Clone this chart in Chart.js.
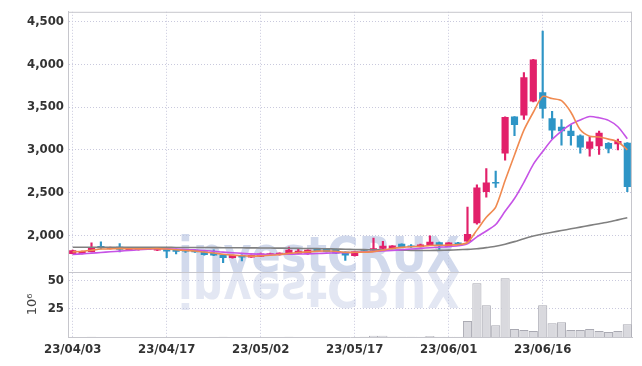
<!DOCTYPE html>
<html>
<head>
<meta charset="utf-8">
<script src="https://cdn.jsdelivr.net/npm/chart.js@4.4.0/dist/chart.umd.min.js"></script>
<style>
  html, body { margin: 0; padding: 0; background: #fff; }
  #wrap { width: 642px; height: 366px; }
</style>
</head>
<body>
<div id="wrap"><canvas id="stockChart"></canvas></div>
<script>
// 日付
const dates = [
  "23/04/03", "23/04/04", "23/04/05", "23/04/06", "23/04/07", "23/04/10", "23/04/11", "23/04/12", "23/04/13", "23/04/14",
  "23/04/17", "23/04/18", "23/04/19", "23/04/20", "23/04/21", "23/04/24", "23/04/25", "23/04/26", "23/04/27", "23/04/28",
  "23/05/02", "23/05/03", "23/05/05", "23/05/08", "23/05/09", "23/05/10", "23/05/11", "23/05/12", "23/05/15", "23/05/16",
  "23/05/17", "23/05/18", "23/05/19", "23/05/22", "23/05/23", "23/05/24", "23/05/25", "23/05/26", "23/05/29", "23/05/31",
  "23/06/01", "23/06/02", "23/06/05", "23/06/06", "23/06/07", "23/06/08", "23/06/09", "23/06/12", "23/06/13", "23/06/15",
  "23/06/16", "23/06/19", "23/06/20", "23/06/21", "23/06/22", "23/06/23", "23/06/26", "23/06/27", "23/06/28", "23/06/29",
];

// 四本値
const opens = [
  1785, 1785, 1808, 1870, 1845, 1860, 1822, 1830, 1835, 1825,
  1841, 1834, 1828, 1825, 1805, 1790, 1767, 1736, 1765, 1744,
  1752, 1772, 1771, 1783, 1787, 1790, 1834, 1834, 1834, 1802,
  1760, 1828, 1826, 1845, 1845, 1895, 1876, 1866, 1886, 1915,
  1870, 1912, 1930, 2143, 2510, 2620, 2960, 3385, 3405, 3570,
  3670, 3365, 3265, 3220, 3165, 3016, 3045, 3075, 3068, 3080,
];
const highs = [
  1825, 1815, 1910, 1922, 1860, 1903, 1848, 1850, 1855, 1848,
  1845, 1838, 1832, 1828, 1810, 1830, 1770, 1768, 1770, 1770,
  1790, 1790, 1795, 1860, 1837, 1830, 1838, 1838, 1838, 1806,
  1815, 1832, 1966, 1930, 1880, 1900, 1890, 1895, 1994, 1920,
  1915, 1918, 2329, 2590, 2780, 2750, 3385, 3390, 3905, 4060,
  4390, 3450, 3355, 3290, 3175, 3151, 3220, 3085, 3125, 3085,
];
const lows = [
  1780, 1780, 1805, 1840, 1840, 1806, 1818, 1825, 1830, 1820,
  1737, 1780, 1800, 1798, 1768, 1762, 1680, 1732, 1698, 1740,
  1748, 1768, 1768, 1780, 1782, 1775, 1810, 1805, 1785, 1706,
  1755, 1818, 1822, 1840, 1840, 1860, 1858, 1862, 1882, 1834,
  1866, 1895, 1925, 2130, 2445, 2560, 2880, 3165, 3355, 3560,
  3370, 3130, 3055, 3055, 2960, 2927, 2945, 2965, 3000, 2510,
];
const closes = [
  1820, 1812, 1858, 1852, 1852, 1835, 1840, 1845, 1850, 1842,
  1814, 1810, 1812, 1805, 1772, 1768, 1736, 1764, 1744, 1766,
  1783, 1785, 1790, 1826, 1814, 1826, 1815, 1808, 1790, 1767,
  1810, 1822, 1845, 1872, 1875, 1864, 1862, 1889, 1920, 1880,
  1910, 1900, 2010, 2555, 2615, 2610, 3380, 3295, 3845, 4055,
  3485, 3230, 3220, 3165, 3030, 3094, 3195, 3015, 3100, 2570,
];

// 移動平均
const maShort = [
  1805, 1812, 1825, 1838, 1840, 1843, 1842, 1840, 1842, 1843,
  1838, 1830, 1822, 1815, 1803, 1792, 1778, 1767, 1760, 1755,
  1760, 1766, 1775, 1788, 1798, 1805, 1814, 1816, 1813, 1800,
  1800, 1802, 1808, 1825, 1845, 1858, 1866, 1870, 1880, 1882,
  1885, 1890, 1915, 2060, 2210, 2330, 2640, 2940, 3230, 3440,
  3625, 3600, 3575, 3440, 3235, 3160, 3150, 3125, 3095, 3000,
];
const maMid = [
  1775, 1782, 1790, 1798, 1806, 1814, 1822, 1830, 1836, 1841,
  1842, 1838, 1833, 1828, 1822, 1812, 1802, 1795, 1788, 1782,
  1779, 1777, 1776, 1778, 1780, 1782, 1786, 1790, 1794, 1796,
  1800, 1805, 1810, 1815, 1822, 1830, 1838, 1846, 1854, 1860,
  1866, 1876, 1900, 1980, 2050, 2125, 2280, 2430, 2620, 2830,
  2980, 3120, 3220, 3300, 3350, 3390, 3375, 3345, 3270, 3130,
];
const maLong = [
  1860, 1860, 1860, 1860, 1859, 1859, 1859, 1858, 1858, 1858,
  1858, 1857, 1857, 1856, 1856, 1855, 1854, 1854, 1853, 1852,
  1851, 1850, 1849, 1848, 1846, 1845, 1843, 1841, 1839, 1836,
  1833, 1831, 1829, 1827, 1825, 1824, 1823, 1822, 1822, 1823,
  1826, 1830, 1835, 1842, 1855, 1870, 1895, 1925, 1960, 1990,
  2015, 2035, 2055, 2075, 2095, 2115, 2135, 2155, 2180, 2205,
];

// 出来高（10^6）
const volumes = [
  0.1, 0.1, 0.2, 0.1, 0.1, 0.1, 0.1, 0.1, 0.1, 0.1,
  0.1, 0.1, 0.1, 0.1, 0.1, 0.1, 0.2, 0.1, 0.1, 0.1,
  0.1, 0.1, 0.1, 0.2, 0.1, 0.1, 0.1, 0.1, 0.1, 0.1,
  0.1, 0.2, 1.2, 1.2, 0.2, 0.2, 0.2, 0.3, 1.0, 0.3,
  0.3, 0.3, 14.3, 48, 28.3, 10.4, 52.4, 7.1, 6.3, 5.4,
  28.3, 12.2, 13.1, 6.3, 6.3, 7.1, 5.4, 4.5, 5.4, 11.3,
];

const priceTicks = [2000, 2500, 3000, 3500, 4000, 4500];
const volumeTicks = [25, 50];

const upColor = "#e2206a";
const downColor = "#2e95c6";
const candleColors = closes.map((c, i) => (c >= opens[i] ? upColor : downColor));

const tickFont = { family: "'DejaVu Sans Condensed', sans-serif", size: 13, weight: "bold" };
const gridColor = "#c9c9dd";
const frameColor = "#c6c6cc";

// 透かし文字
const watermarkPlugin = {
  id: "watermark",
  beforeDatasetsDraw(chart) {
    const ctx = chart.ctx;
    const base = chart.scales.y.bottom;
    ctx.save();
    ctx.font = "bold 50px 'DejaVu Sans'";
    const w = ctx.measureText("investCRUX").width;
    ctx.translate(178, base);
    ctx.scale(282 / w, 1);
    ctx.textBaseline = "alphabetic";
    ctx.fillStyle = "rgba(185, 196, 226, 0.65)";
    ctx.fillText("investCRUX", 0, 0);
    ctx.scale(1, -1);
    ctx.fillStyle = "rgba(185, 196, 226, 0.4)";
    ctx.fillText("investCRUX", 0, 0);
    ctx.restore();
  },
};

// 枠線
const framePlugin = {
  id: "frame",
  beforeDatasetsDraw(chart) {
    const { ctx, chartArea } = chart;
    const y = chart.scales.y;
    ctx.save();
    ctx.strokeStyle = frameColor;
    ctx.lineWidth = 1;
    ctx.beginPath();
    ctx.moveTo(chartArea.left, chartArea.top + 0.5);
    ctx.lineTo(chartArea.right, chartArea.top + 0.5);
    ctx.moveTo(chartArea.right - 0.5, chartArea.top);
    ctx.lineTo(chartArea.right - 0.5, chartArea.bottom);
    ctx.moveTo(chartArea.left, Math.round(y.bottom) + 0.5);
    ctx.lineTo(chartArea.right, Math.round(y.bottom) + 0.5);
    ctx.stroke();
    ctx.restore();
  },
};

const lineDataset = (label, data, color) => ({
  type: "line",
  label: label,
  data: data,
  yAxisID: "y",
  borderColor: color,
  borderWidth: 1.6,
  pointRadius: 0,
  tension: 0.25,
  order: 0,
});

const stockChartConfig = {
  type: "bar",
  data: {
    labels: dates,
    datasets: [
      lineDataset("MA短期", maShort, "#f08a50"),
      lineDataset("MA中期", maMid, "#c653e6"),
      lineDataset("MA長期", maLong, "#808080"),
      {
        label: "ヒゲ",
        data: lows.map((l, i) => [l, highs[i]]),
        yAxisID: "y",
        backgroundColor: candleColors,
        barThickness: 1.5,
        grouped: false,
        order: 2,
      },
      {
        label: "実体",
        data: opens.map((o, i) => [o, closes[i]]),
        yAxisID: "y",
        backgroundColor: candleColors,
        barThickness: 6.5,
        grouped: false,
        order: 1,
      },
      {
        label: "出来高",
        data: volumes,
        yAxisID: "y2",
        backgroundColor: "#d9d9de",
        borderColor: "#a9a9b2",
        borderWidth: 1,
        barPercentage: 0.97,
        categoryPercentage: 1,
        grouped: false,
        order: 3,
      },
    ],
  },
  options: {
    responsive: true,
    maintainAspectRatio: false,
    animation: false,
    locale: "en-US",
    layout: { padding: { left: 0, right: 10, top: 9, bottom: 0 } },
    plugins: {
      legend: { display: false },
      tooltip: { enabled: false },
    },
    scales: {
      x: {
        type: "category",
        offset: true,
        grid: { offset: false, color: gridColor, drawTicks: false },
        border: { display: true, color: frameColor, dash: [1, 2] },
        ticks: {
          autoSkip: false,
          maxRotation: 0,
          padding: 5,
          color: "#333",
          font: tickFont,
          callback: function (value, index) {
            return index % 10 === 0 ? this.getLabelForValue(value) : null;
          },
        },
        afterFit: (scale) => {
          scale.height = 29;
        },
      },
      // 出来高（下段）
      y2: {
        position: "left",
        stack: "panel",
        stackWeight: 1,
        min: 0,
        max: 58,
        grid: { color: gridColor, drawTicks: false },
        border: { display: true, color: frameColor, dash: [1, 2] },
        title: {
          display: true,
          text: "10⁶",
          color: "#444",
          font: { family: "'DejaVu Sans'", size: 13 },
          padding: { top: 25, bottom: 0 },
        },
        ticks: {
          padding: 4,
          color: "#333",
          font: tickFont,
        },
        afterBuildTicks: (scale) => {
          scale.ticks = volumeTicks.map((v) => ({ value: v }));
        },
        afterFit: (scale) => {
          scale.width = 68;
        },
      },
      // 株価（上段）
      y: {
        position: "left",
        stack: "panel",
        stackWeight: 4,
        min: 1570,
        max: 4616,
        grid: { color: gridColor, drawTicks: false },
        border: { display: true, color: frameColor, dash: [1, 2] },
        ticks: {
          padding: 4,
          color: "#333",
          font: tickFont,
          callback: (v) => v.toLocaleString("en-US"),
        },
        afterBuildTicks: (scale) => {
          scale.ticks = priceTicks.map((v) => ({ value: v }));
        },
        afterFit: (scale) => {
          scale.width = 68;
        },
      },
    },
  },
  plugins: [watermarkPlugin, framePlugin],
};

const canvas = document.getElementById("stockChart");
const stockChart = new Chart(canvas, stockChartConfig);
</script>
</body>
</html>
